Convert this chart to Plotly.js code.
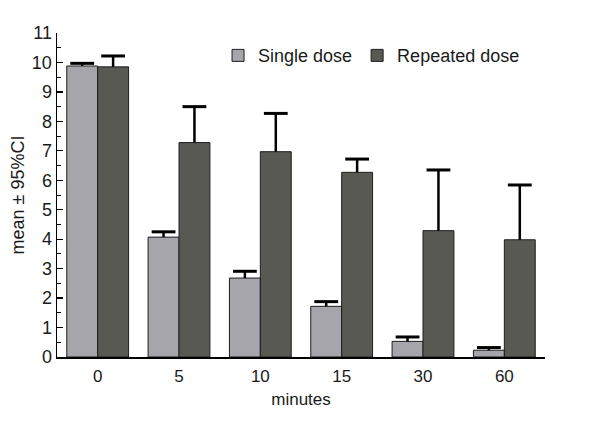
<!DOCTYPE html>
<html>
<head>
<meta charset="utf-8">
<script src="https://cdn.plot.ly/plotly-3.0.1.min.js"></script>
<style>html,body{margin:0;padding:0;background:#fff;}#chart{width:600px;height:422px;}</style>
</head>
<body>
<div id="chart"></div>
<script>
var categories = ["0", "5", "10", "15", "30", "60"];
var singleMean = [9.88, 4.07, 2.68, 1.72, 0.53, 0.23];
var singleCI   = [0.09, 0.18, 0.23, 0.16, 0.15, 0.09];
var repeatedMean = [9.85, 7.28, 6.97, 6.27, 4.29, 3.98];
var repeatedCI   = [0.37, 1.22, 1.30, 0.45, 2.06, 1.86];
var zeros = [0, 0, 0, 0, 0, 0];

function upper(m, c) { return m.map(function (v, i) { return v + c[i]; }); }

var stem = {type: 'data', symmetric: false, color: '#000', thickness: 2.5, width: 0};
var cap = {symbol: 'line-ew', size: 17, color: '#000', line: {color: '#000', width: 3}};

var traces = [
  {
    type: 'bar', name: 'Single dose', x: categories, y: singleMean,
    marker: {color: '#a5a5ab', line: {color: '#1e1e1e', width: 1}},
    error_y: Object.assign({array: singleCI, arrayminus: zeros}, stem)
  },
  {
    type: 'bar', name: 'Repeated dose', x: categories, y: repeatedMean,
    marker: {color: '#585952', line: {color: '#1e1e1e', width: 1}},
    error_y: Object.assign({array: repeatedCI, arrayminus: zeros}, stem)
  },
  {
    type: 'scatter', mode: 'markers', x: categories, y: upper(singleMean, singleCI),
    marker: cap, showlegend: false, hoverinfo: 'skip', cliponaxis: false
  },
  {
    type: 'scatter', mode: 'markers', x: categories, y: upper(repeatedMean, repeatedCI),
    marker: cap, showlegend: false, hoverinfo: 'skip', cliponaxis: false
  }
];

var layout = {
  width: 600, height: 422,
  margin: {l: 57, r: 55, t: 33, b: 65},
  paper_bgcolor: '#fff', plot_bgcolor: '#fff',
  font: {family: 'Liberation Sans, Arial, sans-serif', size: 16, color: '#1a1a1a'},
  barmode: 'group', bargap: 0.24, bargroupgap: 0,
  scattermode: 'group', scattergap: 0.24,
  showlegend: true,
  legend: {orientation: 'h', x: 0.33, y: 0.93, xanchor: 'left', yanchor: 'middle',
           font: {size: 18}, bgcolor: 'rgba(0,0,0,0)', traceorder: 'normal'},
  xaxis: {
    type: 'category', range: [-0.5, 5.5],
    showline: true, linecolor: '#000', linewidth: 2,
    ticks: '', showgrid: false, zeroline: false,
    tickfont: {size: 17},
    ticklabelstandoff: 3,
    title: {text: 'minutes', font: {size: 17}, standoff: 8}
  },
  yaxis: {
    range: [0, 11], dtick: 1, tick0: 0,
    showline: true, linecolor: '#000', linewidth: 1.5,
    ticks: 'inside', ticklen: 6, tickwidth: 1.2, tickcolor: '#000',
    minor: {dtick: 0.5, ticks: 'inside', ticklen: 4, tickwidth: 1, tickcolor: '#000', showgrid: false},
    showgrid: false, zeroline: false,
    tickfont: {size: 18},
    title: {text: 'mean ± 95%CI', font: {size: 18}, standoff: 2}
  }
};

Plotly.newPlot('chart', traces, layout, {displayModeBar: false, staticPlot: true});
</script>
</body>
</html>
